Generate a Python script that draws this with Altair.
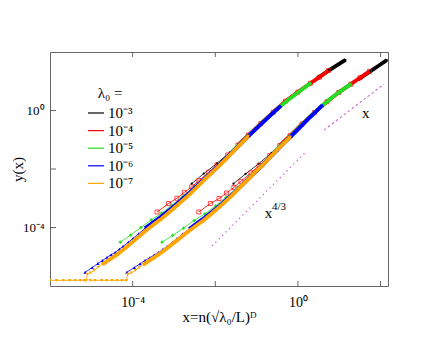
import altair as alt
import pandas as pd

LAMBDAS = ["10⁻³", "10⁻⁴", "10⁻⁵", "10⁻⁶", "10⁻⁷"]
COLORS = ["#000000", "#ff0000", "#22dd22", "#0000ff", "#ffa500"]

# ---- left family (A): log10 x / log10 y ----
A_BLACK_LX = [-2.57, -2.28, -1.96, -1.65, -1.35, -1.05, -0.75, -0.45, -0.15, 0.15, 0.45, 0.75, 0.95, 1.15]
A_BLACK_LY = [-2.50, -2.16, -1.81, -1.43, -1.03, -0.64, -0.25, 0.14, 0.48, 0.78, 1.08, 1.37, 1.55, 1.73]
A_RED_LX = [-3.41, -3.13, -2.93, -2.75, -2.57, -2.40, -2.16, -1.96, -1.70, -1.45, -1.20, -0.90, -0.60, -0.30, 0.00, 0.30, 0.52, 0.74]
A_RED_LY = [-3.47, -3.18, -3.00, -2.80, -2.61, -2.40, -2.11, -1.86, -1.52, -1.18, -0.84, -0.45, -0.06, 0.32, 0.63, 0.93, 1.14, 1.37]
A_GREEN_LX = [-4.30, -4.05, -3.80, -3.55, -3.30, -3.05, -2.80, -2.50, -2.20, -1.90, -1.60, -1.30, -1.00, -0.70, -0.42, -0.20, 0.05, 0.30]
A_GREEN_LY = [-4.50, -4.26, -4.00, -3.74, -3.51, -3.24, -2.95, -2.60, -2.21, -1.82, -1.41, -1.00, -0.59, -0.20, 0.15, 0.40, 0.67, 0.93]
A_BLUE_LX = [-5.15, -4.98, -4.84, -4.73, -4.62, -4.52, -4.42, -4.32, -4.23, -4.10, -3.99, -3.85, -3.70, -3.50, -3.33, -3.10,
             -2.97, -2.80, -2.61, -2.40, -2.24, -2.05, -1.88, -1.70, -1.52, -1.35, -1.20, -1.00, -0.79, -0.60, -0.42]
A_BLUE_LY = [-5.53, -5.37, -5.23, -5.13, -5.02, -4.93, -4.85, -4.74, -4.64, -4.50, -4.37, -4.21, -4.03, -3.82, -3.65, -3.39,
             -3.24, -3.03, -2.80, -2.52, -2.31, -2.06, -1.84, -1.58, -1.33, -1.09, -0.88, -0.61, -0.33, -0.08, 0.15]
A_ORANGE_LX = [-6.00, -5.85, -5.68, -5.52, -5.39, -5.27, -5.17, -5.12,
               -5.10, -5.02, -4.93, -4.84, -4.73, -4.62, -4.52, -4.42, -4.32, -4.23, -4.10, -3.99, -3.85, -3.70,
               -3.50, -3.33, -3.10, -2.97, -2.80, -2.61, -2.40, -2.24, -2.05, -1.88, -1.70, -1.52, -1.35, -1.20]
A_ORANGE_LY = [-5.81, -5.81, -5.81, -5.81, -5.81, -5.81, -5.81, -5.81,
               -5.60, -5.55, -5.47, -5.36, -5.26, -5.15, -5.06, -4.97, -4.86, -4.76, -4.61, -4.48, -4.31, -4.13,
               -3.91, -3.73, -3.46, -3.30, -3.09, -2.85, -2.56, -2.34, -2.08, -1.86, -1.60, -1.34, -1.10, -0.88]

# ---- right family (B) ----
B_BLACK_LX = [-1.56, -1.27, -0.95, -0.64, -0.34, -0.04, 0.26, 0.56, 0.86, 1.16, 1.46, 1.74, 1.95, 2.15]
B_BLACK_LY = [-2.50, -2.17, -1.82, -1.45, -1.05, -0.66, -0.27, 0.13, 0.48, 0.77, 1.06, 1.33, 1.53, 1.72]
B_RED_LX = [-2.40, -2.12, -1.91, -1.73, -1.55, -1.38, -1.14, -0.94, -0.68, -0.44, -0.19, 0.10, 0.40, 0.70, 0.99, 1.28, 1.50, 1.73]
B_RED_LY = [-3.47, -3.18, -3.01, -2.82, -2.63, -2.42, -2.13, -1.88, -1.54, -1.20, -0.86, -0.46, -0.07, 0.30, 0.62, 0.90, 1.12, 1.34]
B_GREEN_LX = [-3.29, -3.03, -2.77, -2.51, -2.25, -1.99, -1.74, -1.45, -1.16, -0.87, -0.58, -0.28, 0.01, 0.30, 0.59, 0.80, 1.05, 1.28]
B_GREEN_LY = [-4.50, -4.27, -4.02, -3.76, -3.53, -3.26, -2.97, -2.62, -2.23, -1.84, -1.43, -1.02, -0.60, -0.20, 0.17, 0.42, 0.68, 0.90]
B_BLUE_LX = [-4.14, -3.96, -3.82, -3.70, -3.58, -3.48, -3.37, -3.27, -3.17, -3.04, -2.93, -2.79, -2.63, -2.43, -2.26, -2.03,
             -1.90, -1.73, -1.55, -1.35, -1.20, -1.01, -0.85, -0.68, -0.50, -0.33, -0.18, 0.02, 0.22, 0.41, 0.59]
B_BLUE_LY = [-5.53, -5.37, -5.24, -5.13, -5.03, -4.94, -4.85, -4.75, -4.65, -4.51, -4.38, -4.22, -4.05, -3.84, -3.67, -3.41,
             -3.26, -3.05, -2.82, -2.54, -2.33, -2.08, -1.86, -1.60, -1.35, -1.10, -0.90, -0.62, -0.33, -0.07, 0.18]
B_ORANGE_LX = [-5.03, -4.91, -4.75, -4.63, -4.50, -4.38, -4.26, -4.15,
               -4.12, -4.03, -3.94, -3.85, -3.74, -3.63, -3.53, -3.43, -3.33, -3.23, -3.10, -2.98, -2.83, -2.67,
               -2.46, -2.28, -2.05, -1.92, -1.75, -1.57, -1.37, -1.21, -1.03, -0.86, -0.69, -0.51, -0.34, -0.18]
B_ORANGE_LY = [-5.81, -5.81, -5.81, -5.81, -5.81, -5.81, -5.81, -5.81,
               -5.60, -5.55, -5.47, -5.37, -5.27, -5.16, -5.07, -4.98, -4.88, -4.78, -4.63, -4.50, -4.33, -4.15,
               -3.93, -3.75, -3.48, -3.32, -3.11, -2.87, -2.58, -2.36, -2.10, -1.88, -1.62, -1.36, -1.12, -0.90]

# index where each series becomes dense (drawn thick)
THICK_FROM = [10, 9, 10, 12, 12]

# guide power laws
G43_LX = [-2.08, 0.18]
G43_LY = [-4.63, -1.43]
G1_LX = [0.63, 2.08]
G1_LY = [-0.67, 0.90]

# annotations
ANN_TEXT = ["x", "4/3", "x"]
ANN_LX = [-0.71, -0.63, 1.64]
ANN_LY = [-3.52, -3.30, -0.08]

X_TICKS = [1e-4, 1e-2, 1.0, 100.0]
Y_TICKS = [1e-4, 1e-2, 1.0]

W, H = 338, 234
FONT = "Liberation Serif"

series = [
    (LAMBDAS[0], A_BLACK_LX, A_BLACK_LY, B_BLACK_LX, B_BLACK_LY),
    (LAMBDAS[1], A_RED_LX, A_RED_LY, B_RED_LX, B_RED_LY),
    (LAMBDAS[2], A_GREEN_LX, A_GREEN_LY, B_GREEN_LX, B_GREEN_LY),
    (LAMBDAS[3], A_BLUE_LX, A_BLUE_LY, B_BLUE_LX, B_BLUE_LY),
    (LAMBDAS[4], A_ORANGE_LX, A_ORANGE_LY, B_ORANGE_LX, B_ORANGE_LY),
]

xscale = alt.Scale(type="log", domain=[1e-6, 151], nice=False)
yscale = alt.Scale(type="log", domain=[1e-6, 1e2], nice=False)
cscale = alt.Scale(domain=LAMBDAS, range=COLORS)
legend = alt.Legend(
    title="λ₀ =", orient="none", legendX=37, legendY=34,
    titleFont=FONT, titleFontSize=15, titleFontWeight="normal", titleColor="#000",
    titleAnchor="middle", titlePadding=3,
    labelFont=FONT, labelFontSize=15, labelColor="#000",
    symbolType="stroke", symbolSize=256, symbolStrokeWidth=1.2, rowPadding=0.6,
    labelOffset=3,
)

xaxis = alt.Axis(values=[1e-4, 1.0], labelExpr="datum.value < 0.001 ? '10⁻⁴' : '10⁰'",
                 ticks=False, domain=False, grid=False, labelFont=FONT, labelFontSize=14,
                 labelColor="#000", labelPadding=9, title="x=n(√λ₀/L)ᴰ", titleFont=FONT,
                 titleFontSize=15, titleFontWeight="normal", titleColor="#000", titlePadding=0)
yaxis = alt.Axis(values=[1e-4, 1.0], labelExpr="datum.value < 0.001 ? '10⁻⁴' : '10⁰'",
                 ticks=False, domain=False, grid=False, labelFont=FONT, labelFontSize=13,
                 labelColor="#000", labelPadding=6, title="y(x)", titleFont=FONT,
                 titleFontSize=15, titleFontWeight="normal", titleColor="#000",
                 titleX=-25, titleY=H / 2)

X = lambda f: alt.X(f, scale=xscale, axis=xaxis)
Y = lambda f: alt.Y(f, scale=yscale, axis=yaxis)

point_style = {
    LAMBDAS[0]: dict(shape="circle", size=5, filled=True),
    LAMBDAS[1]: dict(shape="square", size=16, filled=False, strokeWidth=0.7),
    LAMBDAS[2]: dict(shape="cross", size=10, filled=True),
    LAMBDAS[3]: dict(shape="triangle-up", size=11, filled=True),
    LAMBDAS[4]: dict(shape="triangle-down", size=11, filled=True),
}

layers = []
for k, (lam, alx, aly, blx, bly) in enumerate(series):
    rows = []
    for fam, lx, ly in (("A", alx, aly), ("B", blx, bly)):
        for i, (a, b) in enumerate(zip(lx, ly)):
            rows.append({"lam": lam, "fam": fam, "i": i, "x": 10 ** a, "y": 10 ** b,
                         "thick": i >= THICK_FROM[k]})
    df = pd.DataFrame(rows)
    base = alt.Chart(df)
    enc = dict(
        x=X("x:Q"),
        y=Y("y:Q"),
        color=alt.Color("lam:N", scale=cscale, legend=legend),
        detail="fam:N",
        order="i:Q",
    )
    layers.append(base.mark_line(strokeWidth=0.8, clip=True).encode(**enc))
    pe = {kk: v for kk, v in enc.items() if kk not in ("detail", "order")}
    layers.append(base.mark_point(opacity=1, clip=True, **point_style[lam]).encode(**pe))
    layers.append(base.transform_filter("datum.thick").mark_line(strokeWidth=3.8, clip=True).encode(**enc))

guides = pd.DataFrame([{"x": 10 ** a, "y": 10 ** b} for a, b in zip(G43_LX, G43_LY)])
guides2 = pd.DataFrame([{"x": 10 ** a, "y": 10 ** b} for a, b in zip(G1_LX, G1_LY)])
layers.append(alt.Chart(guides).mark_line(color="#cc66cc", strokeWidth=1.3, strokeDash=[1.3, 3.5]).encode(
    x=X("x:Q"), y=Y("y:Q")))
layers.append(alt.Chart(guides2).mark_line(color="#cc66cc", strokeWidth=1.1, strokeDash=[2.5, 2.5]).encode(
    x=X("x:Q"), y=Y("y:Q")))

ann = pd.DataFrame({"t": ANN_TEXT, "x": [10 ** v for v in ANN_LX], "y": [10 ** v for v in ANN_LY],
                    "s": [14, 10, 14]})
layers.append(alt.Chart(ann).transform_filter("datum.s > 12").mark_text(
    font=FONT, fontSize=15, color="#000", align="center", baseline="middle").encode(
    x=X("x:Q"), y=Y("y:Q"), text="t:N"))
layers.append(alt.Chart(ann).transform_filter("datum.s < 12").mark_text(
    font=FONT, fontSize=11, color="#000", align="left", baseline="middle").encode(
    x=X("x:Q"), y=Y("y:Q"), text="t:N"))

xt = pd.DataFrame({"x": X_TICKS})
yt = pd.DataFrame({"y": Y_TICKS})
layers.append(alt.Chart(xt).mark_rule(color="#666", strokeWidth=1).encode(
    x=X("x:Q"), y=alt.value(H), y2=alt.value(H - 5)))
layers.append(alt.Chart(xt).mark_rule(color="#666", strokeWidth=1).encode(
    x=X("x:Q"), y=alt.value(0), y2=alt.value(5)))
layers.append(alt.Chart(yt).mark_rule(color="#666", strokeWidth=1).encode(
    y=Y("y:Q"), x=alt.value(0), x2=alt.value(6)))

chart = alt.layer(*layers).properties(
    width=W, height=H,
    autosize=alt.AutoSizeParams(type="none"),
    padding={"left": 42, "top": 44, "right": 40, "bottom": 43},
    background="white",
).configure_view(stroke="#666", strokeWidth=1)

chart.save("out.html", embed_options={"renderer": "svg", "actions": False})
